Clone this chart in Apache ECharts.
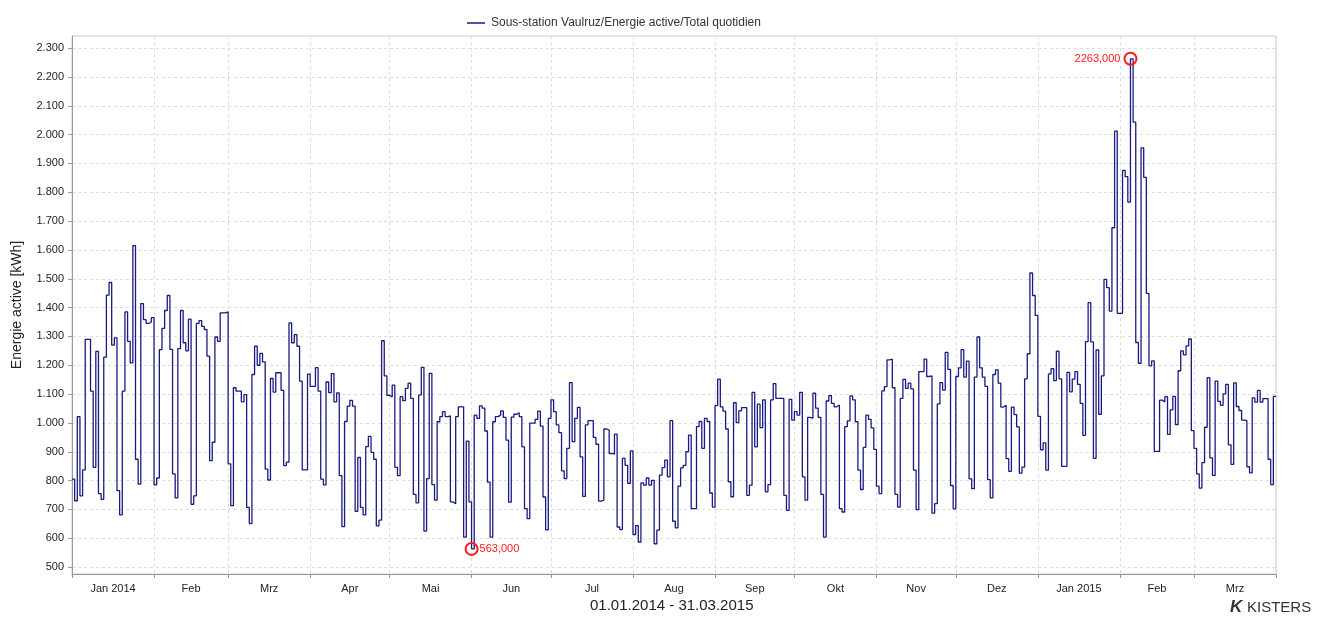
<!DOCTYPE html>
<html>
<head>
<meta charset="utf-8">
<script src="https://cdn.jsdelivr.net/npm/echarts@6/dist/echarts.min.js"></script>
<style>
html, body { margin: 0; padding: 0; background: #fff; }
#chart { width: 1317px; height: 617px; }
</style>
</head>
<body>
<div id="chart"></div>
<script>
var seriesName = 'Sous-station Vaulruz/Energie active/Total quotidien';
var yAxisName = 'Energie active [kWh]';
var periodText = '01.01.2014 - 31.03.2015';
var monthLabels = ['Jan 2014', 'Feb', 'Mrz', 'Apr', 'Mai', 'Jun', 'Jul', 'Aug', 'Sep', 'Okt', 'Nov', 'Dez', 'Jan 2015', 'Feb', 'Mrz'];
var yTicks = [500, 600, 700, 800, 900, 1000, 1100, 1200, 1300, 1400, 1500, 1600, 1700, 1800, 1900, 2000, 2100, 2200, 2300];

// one value per day, 01.01.2014 .. 31.03.2015
var dailyValues = [
    805, 730, 1022, 747, 837, 1290, 1290, 1110, 846, 1248,
    755, 735, 1228, 1443, 1487, 1270, 1295, 765, 681, 1110,
    1385, 1283, 1208, 1615, 874, 788, 1414, 1358, 1345, 1350,
    1365, 785, 809, 1254, 1328, 1390, 1442, 1255, 823, 740,
    1258, 1390, 1278, 1250, 1360, 718, 747, 1345, 1355, 1335,
    1324, 1232, 869, 933, 1298, 1283, 1382, 1382, 1385, 858,
    713, 1122, 1110, 1110, 1073, 1098, 707, 651, 1168, 1266,
    1200, 1241, 1212, 840, 802, 1154, 1107, 1174, 1174, 1113,
    852, 864, 1347, 1278, 1306, 1266, 1145, 837, 837, 1169,
    1127, 1127, 1192, 1110, 805, 785, 1142, 1105, 1171, 1073,
    1104, 817, 640, 1005, 1058, 1078, 1058, 693, 880, 707,
    681, 918, 953, 898, 874, 643, 663, 1285, 1163, 1096,
    1090, 1131, 846, 817, 1091, 1077, 1120, 1138, 1085, 752,
    723, 1097, 1193, 625, 807, 1172, 786, 732, 1004, 1022,
    1039, 1022, 1024, 726, 720, 1022, 1056, 1056, 604, 937,
    726, 563, 1027, 1016, 1059, 1051, 972, 795, 604, 1004,
    1022, 1027, 1042, 1019, 940, 725, 1020, 1030, 1035, 1022,
    917, 703, 668, 999, 999, 1012, 1041, 989, 743, 629,
    1016, 1080, 1039, 993, 966, 834, 807, 912, 1140, 935,
    1016, 1054, 882, 745, 993, 1008, 1008, 950, 926, 729,
    732, 979, 975, 894, 892, 961, 639, 630, 877, 853,
    790, 903, 613, 644, 587, 792, 784, 809, 784, 801,
    581, 628, 819, 845, 871, 813, 1008, 659, 636, 781,
    844, 853, 900, 958, 703, 703, 987, 1005, 912, 1016,
    1005, 757, 708, 1060, 1152, 1056, 1041, 979, 796, 744,
    1070, 1001, 1042, 1053, 1053, 749, 784, 1106, 917, 1065,
    984, 1080, 761, 786, 1080, 1136, 1085, 1085, 1085, 749,
    697, 1082, 1010, 1039, 1027, 1106, 813, 732, 1019, 1016,
    1103, 1051, 1019, 752, 604, 1076, 1095, 1068, 1056, 1062,
    703, 691, 987, 1007, 1094, 1080, 1004, 836, 769, 915,
    1027, 1012, 983, 908, 781, 755, 1111, 1126, 1219, 1221,
    1122, 752, 708, 1085, 1151, 1120, 1138, 1118, 836, 699,
    1178, 1178, 1221, 1161, 1163, 687, 720, 1066, 1140, 1114,
    1245, 1186, 783, 702, 1161, 1191, 1254, 1159, 1214, 806,
    772, 1159, 1298, 1191, 1159, 1127, 803, 740, 1168, 1184,
    1138, 1055, 1061, 876, 832, 1055, 1029, 986, 826, 847,
    1153, 1240, 1520, 1442, 1373, 1023, 907, 931, 836, 1170,
    1188, 1147, 1249, 1153, 849, 849, 1175, 1108, 1152, 1178,
    1134, 1068, 957, 1282, 1417, 1281, 877, 1253, 1030, 1163,
    1498, 1469, 1388, 1677, 2012, 1380, 1380, 1876, 1854, 1766,
    2263, 2043, 1279, 1207, 1954, 1852, 1449, 1198, 1215, 901,
    901, 1079, 1073, 1091, 960, 1045, 1092, 994, 1181, 1250,
    1236, 1267, 1291, 973, 912, 823, 774, 862, 985, 1157,
    879, 818, 1145, 1075, 1061, 1101, 1134, 924, 856, 1139,
    1057, 1043, 1010, 1008, 848, 827, 1087, 1072, 1113, 1072,
    1084, 1084, 874, 786, 1092
];

// x is the day number counted from 01.01.2014
var dayMs = 86400000;
var firstDay = Date.UTC(2014, 0, 1);
var dayOf = function (y, m, d) {
    return Math.round((Date.UTC(y, m, d) - firstDay) / dayMs);
};

var points = dailyValues.map(function (v, i) {
    return [i, v];
});
// last day is held until the end of the period
points.push([dailyValues.length, dailyValues[dailyValues.length - 1]]);

var monthStarts = [];
var monthMids = [];
for (var m = 0; m <= monthLabels.length; m++) {
    monthStarts.push(dayOf(2014, m, 1));
}
for (m = 0; m < monthLabels.length; m++) {
    monthMids.push((monthStarts[m] + monthStarts[m + 1]) / 2);
}

var fontName = 'Liberation Sans, Arial, sans-serif';
var lineColor = '#1a1a82';

var formatThousands = function (v) {
    if (v < 1000) return '' + v;
    var rest = '' + (v % 1000);
    while (rest.length < 3) rest = '0' + rest;
    return Math.floor(v / 1000) + '.' + rest;
};

var chart = echarts.init(document.getElementById('chart'), null, {renderer: 'canvas'});

var options = {
    animation: false,
    backgroundColor: '#fff',
    textStyle: {fontFamily: fontName},
    legend: {
        data: [{name: seriesName, icon: 'rect', itemStyle: {color: lineColor}}],
        left: 462,
        top: 12,
        itemWidth: 18,
        itemHeight: 1.5,
        itemGap: 6,
        textStyle: {fontSize: 12, color: '#333', fontFamily: fontName, padding: [0, 0, 0, 1]}
    },
    grid: {
        left: 72,
        right: 41,
        top: 36,
        bottom: 43,
        show: true,
        borderColor: '#ccc',
        borderWidth: 1,
        containLabel: false
    },
    xAxis: {
        type: 'value',
        min: monthStarts[0],
        max: monthStarts[monthStarts.length - 1],
        axisLine: {show: true, lineStyle: {color: '#999'}},
        axisTick: {show: true, length: 4, customValues: monthStarts, lineStyle: {color: '#999'}},
        axisLabel: {
            customValues: monthMids,
            color: '#222',
            fontSize: 11,
            margin: 9,
            hideOverlap: false,
            formatter: function (value) {
                var i = monthMids.indexOf(value);
                return i >= 0 ? monthLabels[i] : '';
            }
        },
        splitLine: {show: true, lineStyle: {color: '#ddd', type: [3, 3]}}
    },
    yAxis: {
        type: 'value',
        min: 476,
        max: 2342,
        name: yAxisName,
        nameLocation: 'middle',
        nameGap: 48,
        nameTextStyle: {fontSize: 14, color: '#222', fontFamily: fontName},
        axisLine: {show: true, lineStyle: {color: '#999'}},
        axisTick: {show: true, length: 4, customValues: yTicks, lineStyle: {color: '#999'}},
        axisLabel: {
            customValues: yTicks,
            color: '#222',
            fontSize: 11,
            margin: 8,
            formatter: formatThousands
        },
        splitLine: {show: true, lineStyle: {color: '#ddd', type: [3, 3]}}
    },
    series: [{
        name: seriesName,
        type: 'line',
        step: 'end',
        data: points,
        symbol: 'none',
        showSymbol: false,
        lineStyle: {color: lineColor, width: 1.3},
        itemStyle: {color: lineColor},
        markPoint: {
            symbol: 'circle',
            symbolSize: 12,
            itemStyle: {color: 'rgba(0,0,0,0)', borderColor: '#ff1a1a', borderWidth: 2},
            label: {
                color: '#ff1a1a',
                fontSize: 11,
                fontFamily: fontName,
                formatter: function (p) {
                    return p.value.toFixed(3).replace('.', ',');
                }
            },
            data: [
                {type: 'max', label: {position: 'left', distance: 3}},
                {type: 'min', label: {position: 'right', distance: 1}}
            ]
        }
    }],
    graphic: [
        {
            type: 'text',
            left: 590,
            top: 598,
            style: {text: periodText, fontSize: 15, fill: '#222', fontFamily: fontName}
        },
        {
            type: 'text',
            left: 1230,
            top: 599,
            style: {text: 'K', fontSize: 17, fontWeight: 'bold', fontStyle: 'italic', fill: '#333', fontFamily: fontName}
        },
        {
            type: 'text',
            left: 1247,
            top: 600,
            style: {text: 'KISTERS', fontSize: 15, fill: '#333', fontFamily: 'Liberation Sans Narrow, Liberation Sans, Arial, sans-serif'}
        }
    ]
};

chart.setOption(options);
</script>
</body>
</html>
